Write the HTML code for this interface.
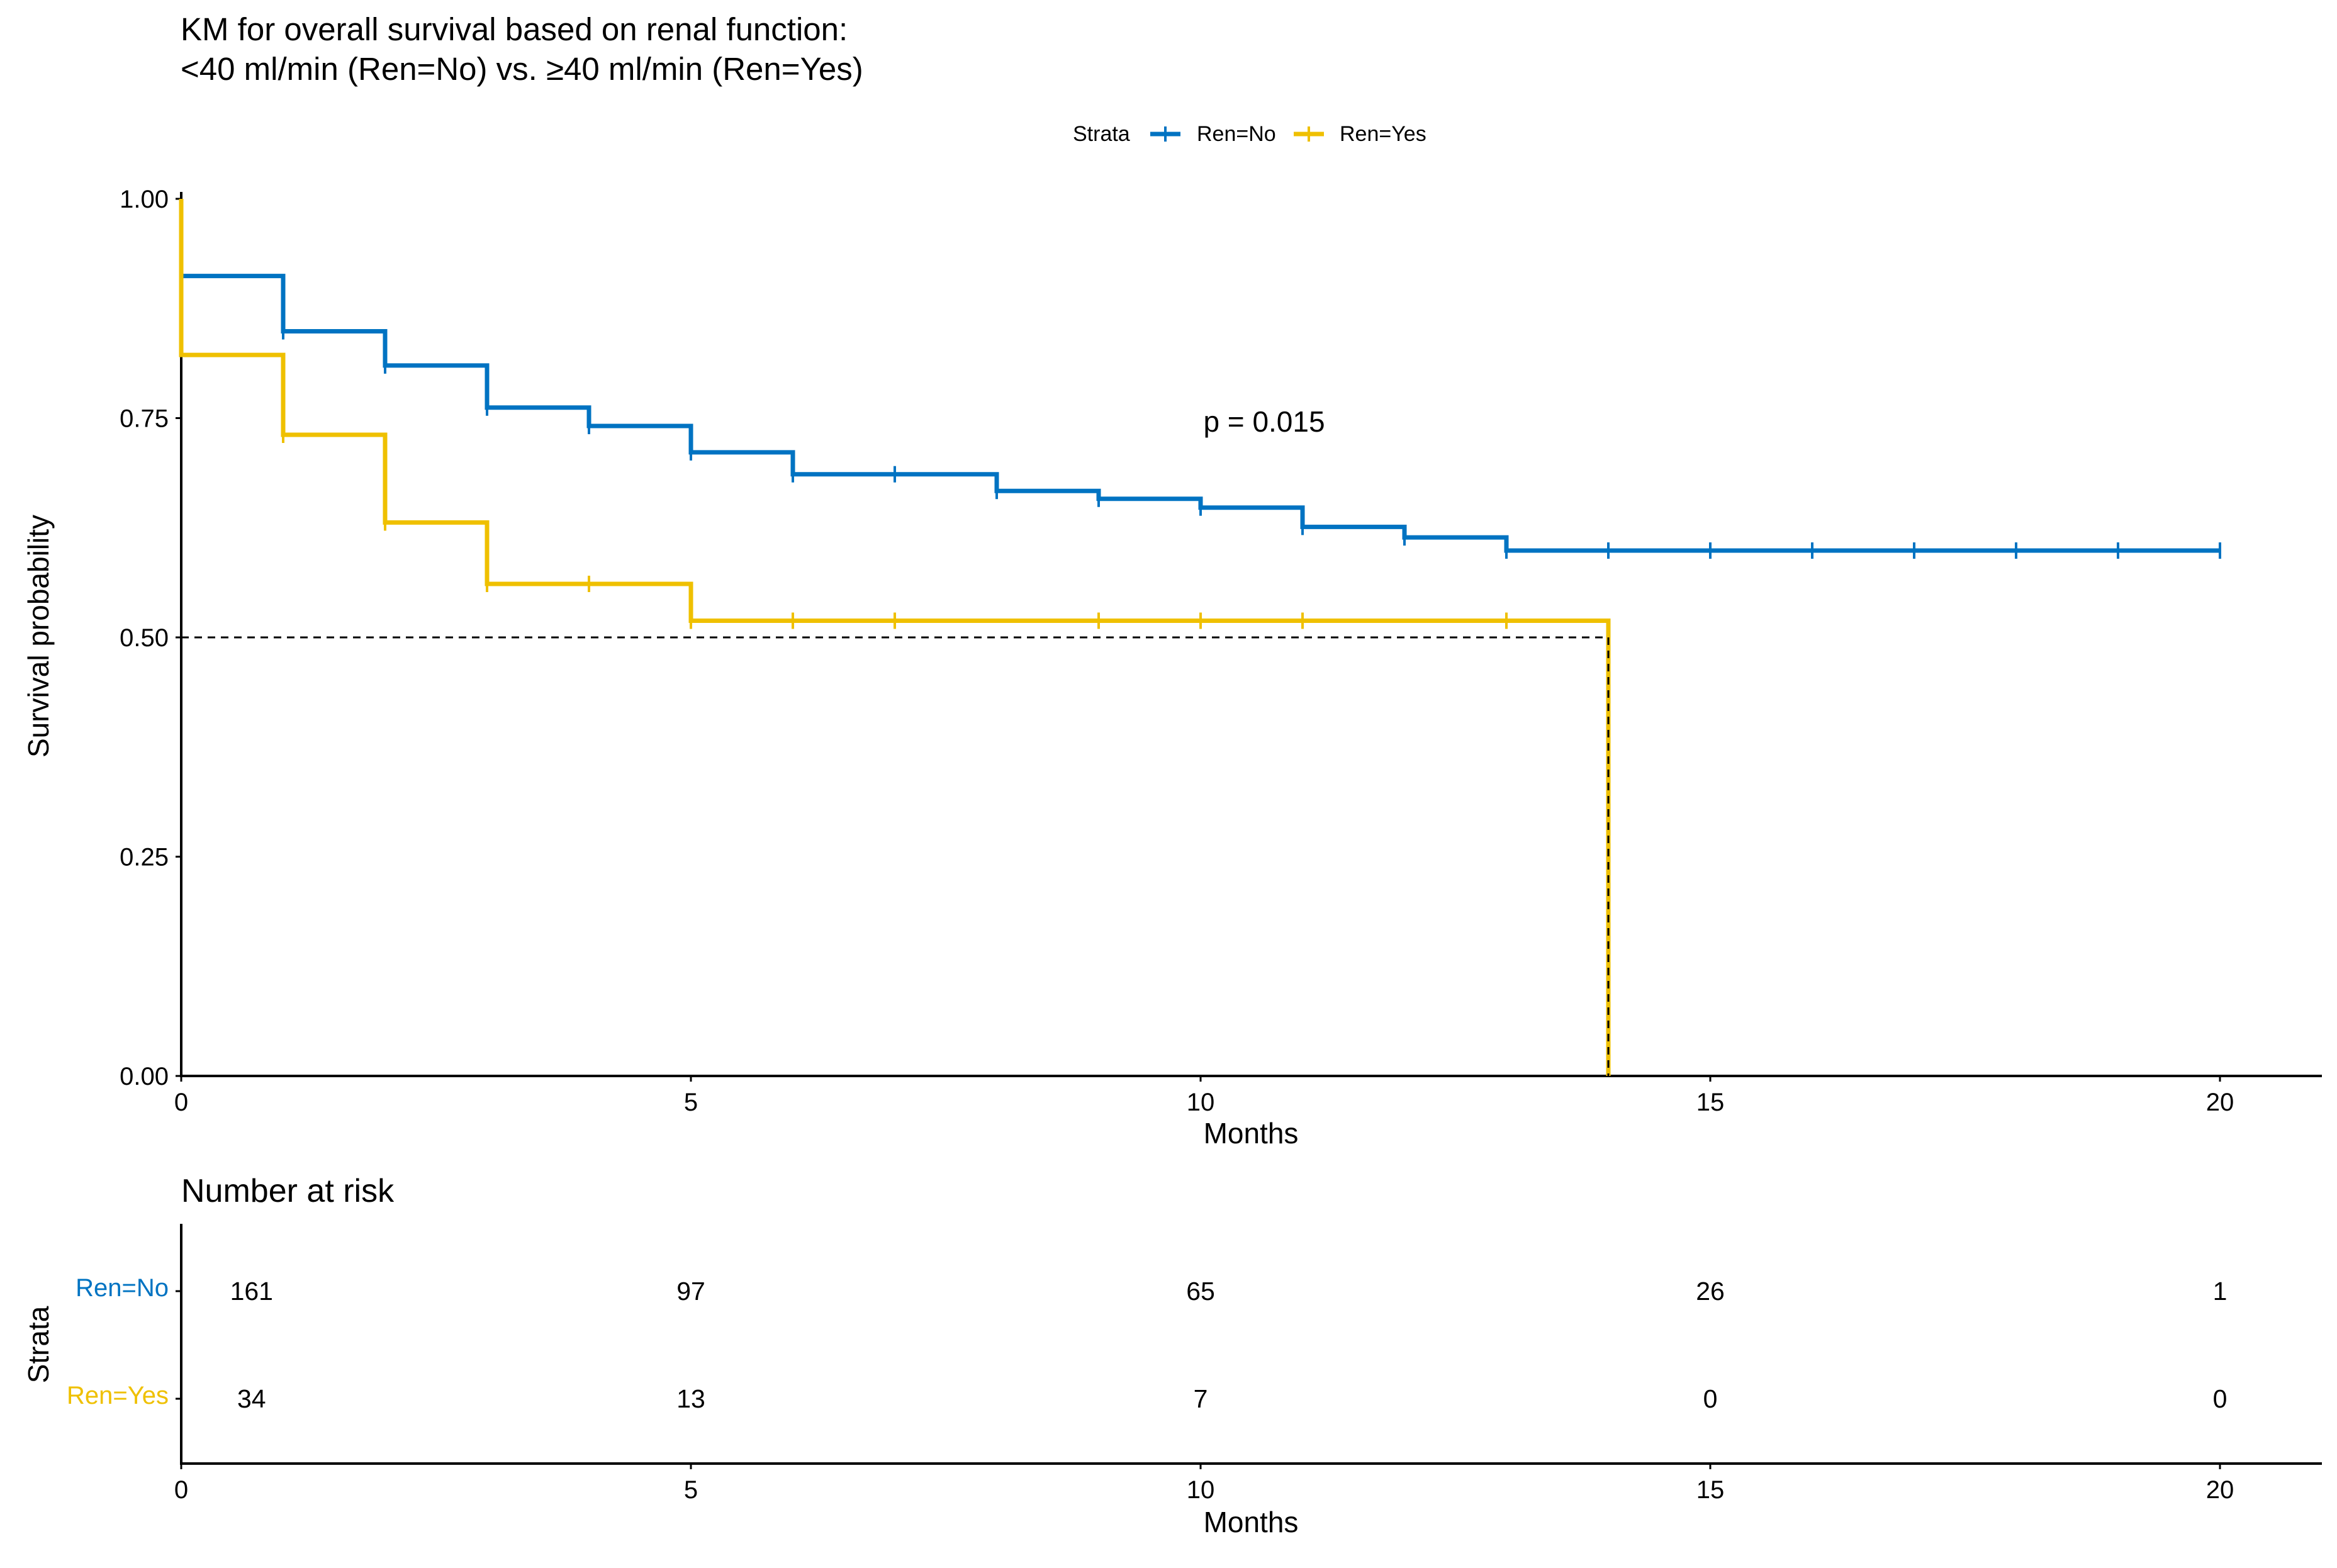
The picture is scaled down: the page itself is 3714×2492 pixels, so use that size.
<!DOCTYPE html>
<html><head><meta charset="utf-8"><style>
body{margin:0;background:#fff}
svg{display:block;font-family:"Liberation Sans",sans-serif}
</style></head><body>
<svg id="chart" width="3714" height="2492" viewBox="0 0 3714 2492">
<text x="287" y="64" font-size="51" fill="#000">KM for overall survival based on renal function:</text>
<text x="287" y="127" font-size="51" fill="#000">&lt;40 ml/min (Ren=No) vs. ≥40 ml/min (Ren=Yes)</text>
<g>
<text x="1705" y="224" font-size="34">Strata</text>
<g><line x1="1828" y1="213" x2="1876" y2="213" stroke="#0073C2" stroke-width="7"/><line x1="1852" y1="201" x2="1852" y2="225" stroke="#0073C2" stroke-width="4"/><text x="1902" y="224" font-size="34">Ren=No</text></g>
<g><line x1="2056" y1="213" x2="2104" y2="213" stroke="#EFC000" stroke-width="7"/><line x1="2080" y1="201" x2="2080" y2="225" stroke="#EFC000" stroke-width="4"/><text x="2129" y="224" font-size="34">Ren=Yes</text></g>
</g>
<g id="plot"></g>
<g id="risk"></g>
</svg>
<script>
const noTimes=[0,0,1,2,3,4,5,6,8,9,10,11,12,13];
const noSurv=[1.0,0.912,0.849,0.81,0.762,0.741,0.711,0.686,0.667,0.658,0.648,0.626,0.614,0.599];
const noEnd=20;
const noCensor=[1,2,3,4,5,6,7,8,9,10,11,12,13,14,15,16,17,18,19,20];
const yesTimes=[0,0,1,2,3,5,14];
const yesSurv=[1.0,0.822,0.731,0.631,0.561,0.519,0];
const yesEnd=14;
const yesCensor=[1,2,3,4,5,6,7,9,10,11,13];
const xTicks=[0,5,10,15,20];
const yTicks=[0,0.25,0.5,0.75,1.0];
const yTickLabels=["0.00","0.25","0.50","0.75","1.00"];
const riskTimes=[0,5,10,15,20];
const riskNo=[161,97,65,26,1];
const riskYes=[34,13,7,0,0];
const pLabel="p = 0.015";

const NS="http://www.w3.org/2000/svg";
const X=t=>288+t*162;
const Y=v=>1710-v*1394;
function mk(tag,attrs,parent,text){const e=document.createElementNS(NS,tag);for(const k in attrs)e.setAttribute(k,attrs[k]);if(text!==undefined)e.textContent=text;parent.appendChild(e);return e;}
const plot=document.getElementById('plot');
let ax=mk('line',{x1:288,y1:305,x2:288,y2:1710,stroke:'#000','stroke-width':4},plot);


let bx=mk('line',{x1:286,y1:1710,x2:3690,y2:1710,stroke:'#000','stroke-width':4},plot);


yTicks.forEach((v,i)=>{
  mk('line',{x1:279,y1:Y(v),x2:288,y2:Y(v),stroke:'#000','stroke-width':3},plot);
  const t=mk('text',{x:268,y:Y(v)+14,'font-size':40,'text-anchor':'end'},plot,yTickLabels[i]);
  
  
});
xTicks.forEach(v=>{
  mk('line',{x1:X(v),y1:1710,x2:X(v),y2:1719,stroke:'#000','stroke-width':3},plot);
  const t=mk('text',{x:X(v),y:1765,'font-size':40,'text-anchor':'middle'},plot,String(v));
  
  
});
let xt=mk('text',{x:1988,y:1817,'font-size':46,'text-anchor':'middle'},plot,'Months');


let yt=mk('text',{x:0,y:0,'font-size':46,'text-anchor':'middle',transform:'translate(77,1011) rotate(-90)'},plot,'Survival probability');


function stepPath(times,surv,end){
  let d=`M${X(times[0])},${Y(surv[0])}`;
  for(let i=1;i<times.length;i++){d+=` H${X(times[i])} V${Y(surv[i])}`;}
  d+=` H${X(end)}`;return d;
}
function survAt(times,surv,t){let s=surv[0];for(let i=0;i<times.length;i++){if(times[i]<=t)s=surv[i];}return s;}
function drawSeries(times,surv,end,cens,color,name){
  const p=mk('path',{d:stepPath(times,surv,end),fill:'none',stroke:color,'stroke-width':7},plot);
  
  
  cens.forEach(t=>{
    const s=survAt(times,surv,t);
    const c=mk('line',{x1:X(t),y1:Y(s)-13,x2:X(t),y2:Y(s)+13,stroke:color,'stroke-width':4},plot);
    
    
  });
}
drawSeries(noTimes,noSurv,noEnd,noCensor,'#0073C2','ren-no');
drawSeries(yesTimes,yesSurv,yesEnd,yesCensor,'#EFC000','ren-yes');
let mh=mk('path',{d:`M${X(0)},${Y(0.5)} H${X(yesEnd)} V${Y(0)}`,fill:'none',stroke:'#000','stroke-width':3,'stroke-dasharray':'12,9'},plot);


let pv=mk('text',{x:2009,y:686,'font-size':46,'text-anchor':'middle'},plot,pLabel);



const risk=document.getElementById('risk');
let rt=mk('text',{x:288,y:1910,'font-size':52},risk,'Number at risk');


mk('line',{x1:288,y1:1945,x2:288,y2:2326,stroke:'#000','stroke-width':4},risk);
mk('line',{x1:286,y1:2326,x2:3690,y2:2326,stroke:'#000','stroke-width':4},risk);
const rowY=[2052,2223];
[['Ren=No','#0073C2',riskNo],['Ren=Yes','#EFC000',riskYes]].forEach((r,i)=>{
  mk('line',{x1:279,y1:rowY[i],x2:288,y2:rowY[i],stroke:'#000','stroke-width':3},risk);
  const l=mk('text',{x:268,y:rowY[i]+8,'font-size':40,'text-anchor':'end',fill:r[1]},risk,r[0]);
  
  
  riskTimes.forEach((t,j)=>{
    const n=mk('text',{x:X(Math.max(t,0.69)),y:rowY[i]+14,'font-size':41,'text-anchor':'middle'},risk,String(r[2][j]));
    
    
  });
});
xTicks.forEach(v=>{
  mk('line',{x1:X(v),y1:2326,x2:X(v),y2:2335,stroke:'#000','stroke-width':3},risk);
  const t=mk('text',{x:X(v),y:2381,'font-size':40,'text-anchor':'middle'},risk,String(v));
  
  
});
let rx=mk('text',{x:1988,y:2435,'font-size':46,'text-anchor':'middle'},risk,'Months');


let ry=mk('text',{x:0,y:0,'font-size':46,'text-anchor':'middle',transform:'translate(77,2137) rotate(-90)'},risk,'Strata');


</script>
</body></html>
